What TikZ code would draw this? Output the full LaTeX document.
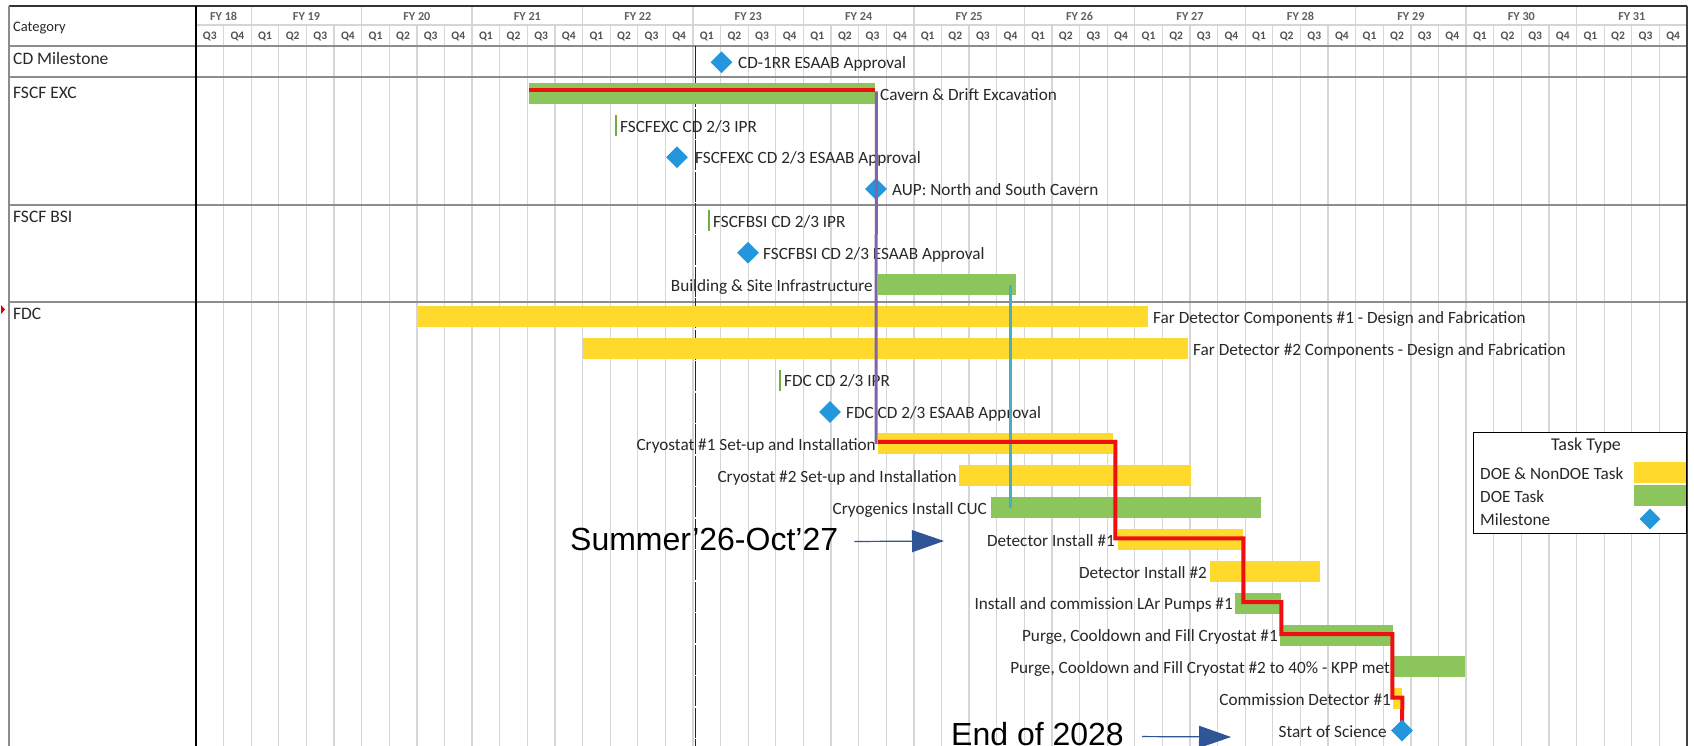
\documentclass[tikz,border=0pt]{standalone}
\usepackage{fontspec}
\setmainfont{Carlito}
\newfontfamily\arialf{Liberation Sans}
\usetikzlibrary{shapes.geometric,arrows.meta,calc}
\definecolor{barY}{RGB}{255,218,45}
\definecolor{barG}{RGB}{139,197,92}
\definecolor{msB}{RGB}{36,150,220}
\definecolor{gridc}{RGB}{214,214,214}
\definecolor{secc}{RGB}{140,140,140}
\definecolor{cpath}{RGB}{238,16,16}
\definecolor{purpc}{RGB}{128,100,170}
\definecolor{aquac}{RGB}{75,172,198}
\definecolor{annb}{RGB}{47,85,151}
\definecolor{iprg}{RGB}{112,173,71}
\definecolor{txtc}{RGB}{40,40,40}
\begin{document}
\begin{tikzpicture}[x=1pt,y=-1pt,
  lbl/.style={font=\fontsize{17.2}{19}\selectfont, inner sep=0pt, text height=14pt, text depth=0.6pt, text=txtc},
  catlbl/.style={font=\fontsize{17.5}{19}\selectfont, inner sep=0pt, anchor=west, text height=14pt, text depth=0.6pt, text=txtc},
  fylbl/.style={font=\fontsize{12.2}{13}\selectfont\bfseries, inner sep=0pt, text=black!62},
  qlbl/.style={font=\fontsize{11.5}{13}\selectfont\bfseries, inner sep=0pt, text=black!68},
  taskbar/.style={minimum height=21pt, inner sep=0pt, anchor=west, draw=none},
  ybar/.style={taskbar, fill=barY},
  gbar/.style={taskbar, fill=barG},
  ms/.style={diamond, fill=msB, minimum width=22pt, minimum height=22pt, inner sep=0pt},
  ipr/.style={fill=iprg, minimum width=1.6pt, minimum height=21pt, inner sep=0pt},
  gridline/.style={draw=gridc, line width=1.3pt},
  secline/.style={draw=secc, line width=2.6pt},
  cpathline/.style={draw=cpath, line width=4pt},
  purpline/.style={draw=purpc, line width=3pt},
  aqualine/.style={draw=aquac, line width=3pt},
  annarrow/.style={draw=annb, line width=1.2pt, -{Triangle[length=32pt,width=22pt]}},
  anntext/.style={font=\arialf\fontsize{32}{36}\selectfont, inner sep=0pt, anchor=base west}
]
\useasboundingbox (0,0) rectangle (1694,746);
\clip (0,0) rectangle (1694,746);
\fill[white] (0,0) rectangle (1694,746);
\def\qw{27.611}
% grid
\foreach \i in {1,...,53} \draw[gridline] ({196+\i*\qw},46) -- ({196+\i*\qw},746);
\foreach \i in {1,...,53} \draw[gridline] ({196+\i*\qw},25) -- ({196+\i*\qw},46);
\foreach \i in {2,6,...,50} \draw[gridline] ({196+\i*\qw},6) -- ({196+\i*\qw},25);
\draw[gridline] (196,25) -- (1687,25);
% header labels
\node[fylbl] (fy18) at ({196+\qw},16.5) {FY 18};
\foreach \n in {19,...,31} \node[fylbl] (fy\n) at ({196+4*(\n-18)*\qw},16.5) {FY \n};
\foreach \i in {0,...,53} {
  \pgfmathtruncatemacro\qq{mod(\i+2,4)+1}
  \node[qlbl] (q\i) at ({196+(\i+0.5)*\qw},36) {Q\qq};
}
\node[font=\fontsize{14.5}{16}\selectfont, inner sep=0pt, anchor=west, text=txtc] (cat) at (13,28) {Category};
% section lines and borders
\draw[secline] (9,46) -- (1687,46);
\draw[secline] (9,77) -- (1687,77);
\draw[secline] (9,205) -- (1687,205);
\draw[secline] (9,302) -- (1687,302);
\draw[draw=black!80, line width=1.5pt] (9,6) -- (1687,6);
\draw[draw=secc, line width=2.2pt] (9,6) -- (9,746);
\draw[draw=black!75, line width=1.5pt] (1687,6) -- (1687,746);
\draw[draw=black, line width=1.8pt] (196,6) -- (196,746);
% today line
\draw[draw=black!85, line width=1.4pt, dash pattern=on 30pt off 1.5pt] (695.5,46) -- (695.5,746);
% category labels
\node[catlbl] (c1) at (13,58) {CD Milestone};
\node[catlbl] (c2) at (13,91.5) {FSCF EXC};
\node[catlbl] (c3) at (13,216) {FSCF BSI};
\node[catlbl] (c4) at (13,313) {FDC};
\fill[red!85!black] (1,305) -- (5,309.5) -- (1,314) -- cycle;
% CD milestone
\node[ms] (cd1) at (721.5,62.3) {};
\node[lbl, anchor=west] (cd1t) at (738,62.3) {CD-1RR ESAAB Approval};
% FSCF EXC
\node[gbar, minimum width=346pt] (cav) at (529,93.5) {};
\node[lbl, anchor=west] (cavt) at (880,93.5) {Cavern \& Drift Excavation};
\node[ipr] (ipr1) at (616,125.4) {};
\node[lbl, anchor=west] (ipr1t) at (620,125.4) {FSCFEXC CD 2/3 IPR};
\node[ms] (ex2) at (677,157.2) {};
\node[lbl, anchor=west] (ex2t) at (695,157.2) {FSCFEXC CD 2/3 ESAAB Approval};
\node[ms] (aup) at (876,189) {};
\node[lbl, anchor=west] (aupt) at (892,189) {AUP: North and South Cavern};
% FSCF BSI
\node[ipr] (ipr2) at (709,220.9) {};
\node[lbl, anchor=west] (ipr2t) at (713,220.9) {FSCFBSI CD 2/3 IPR};
\node[ms] (bs2) at (748,252.8) {};
\node[lbl, anchor=west] (bs2t) at (763,252.8) {FSCFBSI CD 2/3 ESAAB Approval};
\node[gbar, minimum width=138pt] (bsi) at (878,284.6) {};
\node[lbl, anchor=east] (bsit) at (873,284.6) {Building \& Site Infrastructure};
% FDC
\node[ybar, minimum width=730pt] (fd1) at (418,316.5) {};
\node[lbl, anchor=west] (fd1t) at (1153,316.5) {Far Detector Components \#1 - Design and Fabrication};
\node[ybar, minimum width=605pt] (fd2) at (583,348.3) {};
\node[lbl, anchor=west] (fd2t) at (1193,348.3) {Far Detector \#2 Components - Design and Fabrication};
\node[ipr] (ipr3) at (780,380.2) {};
\node[lbl, anchor=west] (ipr3t) at (784,380.2) {FDC CD 2/3 IPR};
\node[ms] (fdc2) at (830,412) {};
\node[lbl, anchor=west] (fdc2t) at (846,412) {FDC CD 2/3 ESAAB Approval};
\node[ybar, minimum width=235pt] (cryo1) at (878,443.9) {};
\node[lbl, anchor=east] (cryo1t) at (876,443.9) {Cryostat \#1 Set-up and Installation};
\node[ybar, minimum width=232pt] (cryo2) at (959,475.7) {};
\node[lbl, anchor=east] (cryo2t) at (957,475.7) {Cryostat \#2 Set-up and Installation};
\node[gbar, minimum width=270pt] (cryog) at (991,507.6) {};
\node[lbl, anchor=east] (cryogt) at (987,507.6) {Cryogenics Install CUC};
\node[ybar, minimum width=125pt] (di1) at (1118,539.4) {};
\node[lbl, anchor=east] (di1t) at (1115,539.4) {Detector Install \#1};
\node[ybar, minimum width=110pt] (di2) at (1210,571.3) {};
\node[lbl, anchor=east] (di2t) at (1207,571.3) {Detector Install \#2};
\node[gbar, minimum width=46pt] (lar) at (1235,603.1) {};
\node[lbl, anchor=east] (lart) at (1233,603.1) {Install and commission LAr Pumps \#1};
\node[gbar, minimum width=113pt] (pur1) at (1280,635) {};
\node[lbl, anchor=east] (pur1t) at (1278,635) {Purge, Cooldown and Fill Cryostat \#1};
\node[gbar, minimum width=72pt] (pur2) at (1393,666.8) {};
\node[lbl, anchor=east] (pur2t) at (1390,666.8) {Purge, Cooldown and Fill Cryostat \#2 to 40\% - KPP met};
\node[ybar, minimum width=9pt] (com) at (1393,698.7) {};
\node[lbl, anchor=east] (comt) at (1391,698.7) {Commission Detector \#1};
\node[lbl, anchor=east] (sost) at (1387,730.5) {Start of Science};
% logic lines
\draw[purpline] ([xshift=1pt,yshift=2pt]cav.east) -- ([xshift=-2pt]cryo1.west);
\draw[aqualine] ([xshift=-6pt]bsi.east) -- ([xshift=-6pt]bsi.east |- cryog.west);
\draw[cpathline] ([yshift=3.5pt]cav.west) -- ([yshift=3.5pt]cav.east);
\draw[cpathline] ([yshift=2pt]cryo1.west) -- ([yshift=2pt,xshift=2pt]cryo1.east) |- ([yshift=1pt]di1.east) |- ([yshift=1pt]lar.east) |- ([yshift=1pt,xshift=-1pt]pur1.east) |- ([yshift=1pt]com.east) -- (1402,725);
\node[ms] (sos) at (1402,730.5) {};
% legend
\node[draw=black, line width=1.4pt, fill=white, minimum width=213pt, minimum height=101pt, inner sep=0pt, anchor=north west] (leg) at (1473,432) {};
\node[lbl, font=\fontsize{18}{20}\selectfont] (legt) at (1586,444) {Task Type};
\node[lbl, anchor=west] (leg1) at (1480,473) {DOE \& NonDOE Task};
\node[lbl, anchor=west] (leg2) at (1480,496) {DOE Task};
\node[lbl, anchor=west] (leg3) at (1480,519) {Milestone};
\node[ybar, minimum width=52pt] (legy) at (1634,472.5) {};
\node[gbar, minimum width=52pt] (legg) at (1634,495.5) {};
\node[ms, minimum width=21pt, minimum height=21pt] (legm) at (1650,519) {};
% annotations
\node[anntext] (ann1) at (570,550.5) {Summer’26-Oct’27};
\coordinate (ann1tip) at (944,541);
\draw[annarrow] ([xshift=16pt,yshift=-2pt]ann1.east) -- (ann1tip);
\node[anntext] (ann2) at (951,745.5) {End of 2028};
\coordinate (ann2tip) at (1231,737);
\draw[annarrow] ([xshift=18pt,yshift=-2.5pt]ann2.east) -- (ann2tip);
\end{tikzpicture}
\end{document}
